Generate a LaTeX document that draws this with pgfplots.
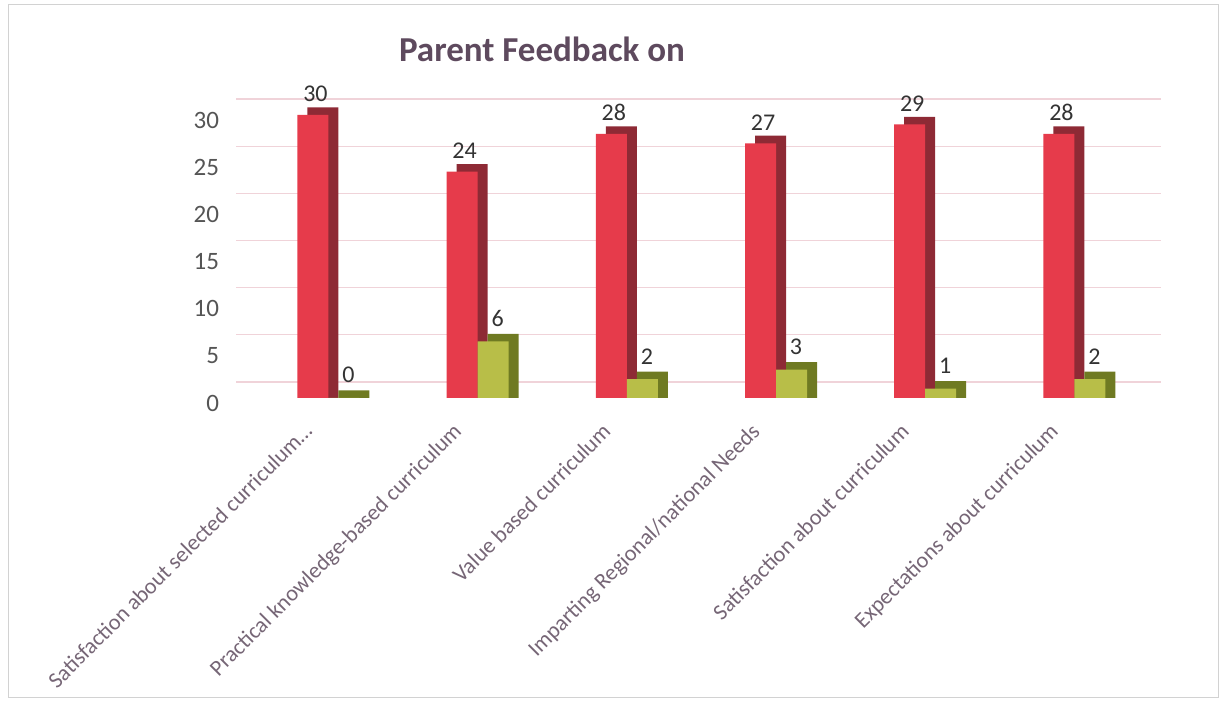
\documentclass[border=0pt]{standalone}
\usepackage{pgfplots}
\pgfplotsset{compat=1.18}
\usepackage{pgfplotstable}
\usepackage{fontspec}
\setmainfont{Carlito}
\definecolor{redf}{HTML}{E63B4B}
\definecolor{reds}{HTML}{8E2A35}
\definecolor{yelf}{HTML}{B8BE48}
\definecolor{yels}{HTML}{6F7A22}
\definecolor{gridc}{HTML}{F0D3D9}
\definecolor{titc}{HTML}{5E4A5E}
\definecolor{labc}{HTML}{766676}
\definecolor{tickc}{HTML}{555555}
\pgfplotstableread{
x red yel
0 30 0
1 24 6
2 28 2
3 27 3
4 29 1
5 28 2
}\data
\begin{document}
\begin{tikzpicture}[x=1pt,y=1pt]
\path[use as bounding box] (0,0) rectangle (612,352.5);
\draw[gray!35, line width=0.5pt] (4,3.5) rectangle (609,350);
\node[font=\bfseries\fontsize{17.5}{20}\selectfont, text=titc] at (271,328) {Parent Feedback on};
\begin{axis}[
  at={(115pt,153.5pt)}, anchor=south west,
  scale only axis, width=462.5pt, height=141.5pt,
  xmin=-0.66, xmax=5.54, ymin=0, ymax=30,
  clip=false,
  axis line style={draw=none}, tick style={draw=none},
  ymajorgrids, grid style={gridc, line width=0.6pt, yshift=8pt, xshift=3pt},
  ytick={0,5,...,30},
  yticklabel style={font=\fontsize{12.5}{14}\selectfont, text=tickc, yshift=-2.5pt, xshift=-2pt},
  /pgf/number format/assume math mode=true,
  xtick={0,...,5},
  xticklabels={Satisfaction about selected curriculum\ldots,Practical knowledge-based curriculum,Value based curriculum,Imparting Regional/national Needs,Satisfaction about curriculum,Expectations about curriculum},
  xticklabel style={xshift=-13pt, yshift=-7pt, rotate=45, anchor=north east, font=\fontsize{11.2}{13}\selectfont, text=labc},
]
\addplot[ybar, bar width=15.5pt, bar shift=-2.75pt, fill=reds, draw=none] table[x=x, y expr=\thisrow{red}+0.8] {\data};
\addplot[ybar, bar width=15.5pt, bar shift=-7.75pt, fill=redf, draw=none,
  nodes near coords, nodes near coords style={font=\fontsize{12}{14}\selectfont, text=black!80, anchor=south, yshift=3pt, xshift=-6.5pt}] table[x=x, y=red] {\data};
\addplot[ybar, bar width=15.5pt, bar shift=12.75pt, fill=yels, draw=none] table[x=x, y expr=\thisrow{yel}+0.8] {\data};
\addplot[ybar, bar width=15.5pt, bar shift=7.75pt, fill=yelf, draw=none,
  nodes near coords, nodes near coords style={font=\fontsize{12}{14}\selectfont, text=black!80, anchor=south, yshift=4pt, xshift=10pt}] table[x=x, y=yel] {\data};
\end{axis}
\end{tikzpicture}
\end{document}
